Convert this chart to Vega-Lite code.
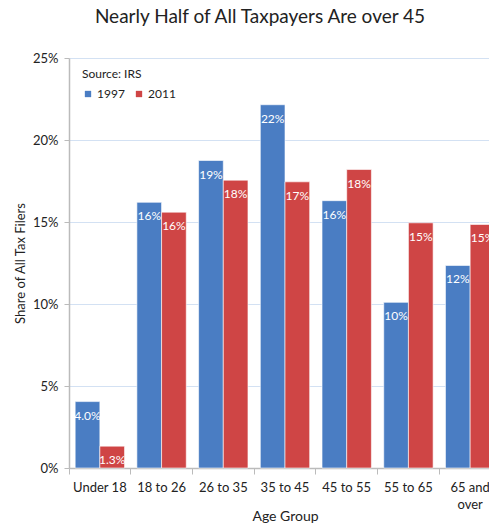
{
  "$schema": "https://vega.github.io/schema/vega-lite/v6.json",
  "width": 432,
  "height": 410,
  "autosize": "none",
  "padding": {"left": 69, "top": 58, "right": 0, "bottom": 57},
  "background": "white",
  "config": {
    "font": "Lato",
    "view": {"stroke": null}
  },
  "title": {
    "text": "Nearly Half of All Taxpayers Are over 45",
    "fontSize": 19,
    "fontWeight": "normal",
    "color": "#222222",
    "anchor": "middle",
    "offset": 25,
    "dx": -25
  },
  "data": {
    "values": [
      {"age": "Under 18", "year": "1997", "value": 4.05, "label": "4.0%"},
      {"age": "Under 18", "year": "2011", "value": 1.33, "label": "1.3%"},
      {"age": "18 to 26", "year": "1997", "value": 16.2, "label": "16%"},
      {"age": "18 to 26", "year": "2011", "value": 15.6, "label": "16%"},
      {"age": "26 to 35", "year": "1997", "value": 18.75, "label": "19%"},
      {"age": "26 to 35", "year": "2011", "value": 17.55, "label": "18%"},
      {"age": "35 to 45", "year": "1997", "value": 22.15, "label": "22%"},
      {"age": "35 to 45", "year": "2011", "value": 17.45, "label": "17%"},
      {"age": "45 to 55", "year": "1997", "value": 16.3, "label": "16%"},
      {"age": "45 to 55", "year": "2011", "value": 18.2, "label": "18%"},
      {"age": "55 to 65", "year": "1997", "value": 10.1, "label": "10%"},
      {"age": "55 to 65", "year": "2011", "value": 14.95, "label": "15%"},
      {"age": "65 and over", "year": "1997", "value": 12.35, "label": "12%"},
      {"age": "65 and over", "year": "2011", "value": 14.85, "label": "15%"}
    ]
  },
  "encoding": {
    "x": {
      "field": "age",
      "type": "nominal",
      "sort": null,
      "scale": {"paddingInner": 0.2, "paddingOuter": 0.1}
    },
    "xOffset": {"field": "year", "type": "nominal", "scale": {"paddingInner": 0, "paddingOuter": 0}},
    "y": {
      "field": "value",
      "type": "quantitative",
      "scale": {"domain": [0, 25], "nice": false},
      "axis": {
        "title": "Share of All Tax Filers",
        "titleFontSize": 13,
        "titleFontWeight": "normal",
        "titleColor": "#222222",
        "titlePadding": 5,
        "values": [0, 5, 10, 15, 20, 25],
        "labelExpr": "datum.value + '%'",
        "labelFontSize": 13,
        "labelColor": "#222222",
        "labelPadding": 6,
        "tickSize": 5,
        "tickColor": "#bbbbbb",
        "domainColor": "#bbbbbb",
        "domainWidth": 1.5,
        "gridColor": "#d3e1f3",
        "gridWidth": 1
      }
    }
  },
  "layer": [
    {
      "mark": {"type": "bar", "stroke": "#ffffff", "strokeOpacity": 0.6, "strokeWidth": 1},
      "encoding": {
        "x": {
          "field": "age",
          "type": "nominal",
          "sort": null,
          "axis": {
            "orient": "bottom",
            "title": "Age Group",
            "titleFontSize": 14,
            "titleFontWeight": "normal",
            "titleColor": "#222222",
            "titleY": 48,
            "titleBaseline": "middle",
            "labelAngle": 0,
            "labelFontSize": 13,
            "labelColor": "#222222",
            "labelPadding": 13,
            "labelLineHeight": 17,
            "labelExpr": "datum.label == '65 and over' ? ['65 and', 'over'] : datum.label",
            "ticks": false,
            "domainColor": "#bbbbbb",
            "domainWidth": 1.5
          }
        },
        "color": {
          "field": "year",
          "type": "nominal",
          "scale": {"domain": ["1997", "2011"], "range": ["#4a7dc3", "#cf4545"]},
          "legend": {
            "orient": "none",
            "legendX": 13,
            "legendY": 11,
            "direction": "horizontal",
            "title": "Source: IRS",
            "titleFontSize": 12,
            "titleFontWeight": "normal",
            "titleColor": "#222222",
            "titlePadding": 7,
            "labelFontSize": 12,
            "labelColor": "#222222",
            "labelOffset": 3,
            "symbolType": "square",
            "symbolSize": 40,
            "symbolStrokeWidth": 0,
            "columnPadding": 8
          }
        }
      }
    },
    {
      "mark": {"type": "text", "color": "white", "fontSize": 12, "dy": 14, "baseline": "middle"},
      "encoding": {
        "text": {"field": "label"},
        "x": {
          "field": "age",
          "type": "nominal",
          "sort": null,
          "axis": {
            "orient": "bottom",
            "title": null,
            "labels": false,
            "domain": false,
            "grid": false,
            "ticks": true,
            "tickSize": 6,
            "tickColor": "#bbbbbb",
            "bandPosition": -0.125
          }
        }
      }
    }
  ],
  "resolve": {"axis": {"x": "independent"}}
}
